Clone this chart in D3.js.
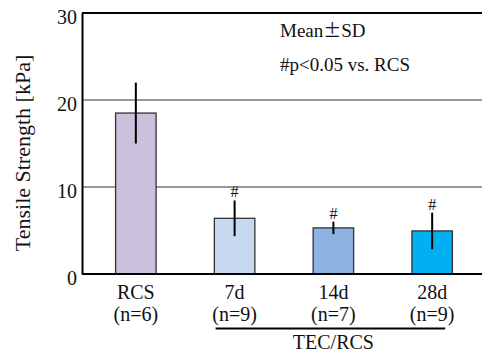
<!DOCTYPE html>
<html>
<head>
<meta charset="utf-8">
<script src="https://cdn.jsdelivr.net/npm/d3@7"></script>
<style>
  body { margin: 0; background: #fff; }
</style>
</head>
<body>
<svg id="chart" width="482" height="352"></svg>
<script>
// data
const groups = ["RCS", "7d", "14d", "28d"];
const counts = ["(n=6)", "(n=9)", "(n=7)", "(n=9)"];
const means = [18.5, 6.4, 5.3, 4.95];
const sds = [3.5, 2.05, 0.72, 2.1];
const marks = ["", "#", "#", "#"];
const colors = ["#cbc1dc", "#c6d9f0", "#8db3e2", "#00b0f0"];
const yTicks = [0, 10, 20, 30];

const FONT = "Liberation Serif";
const width = 482, height = 352;
const margin = {top: 13, right: 0, bottom: 78, left: 82};
const innerW = width - margin.left - margin.right;
const innerH = height - margin.top - margin.bottom;

const svg = d3.select("#chart");

const g = svg.append("g")
  .attr("transform", "translate(" + margin.left + "," + margin.top + ")");

// bar centres ~ 133, 234, 335, 436
const x = d3.scaleBand()
  .domain(groups)
  .range([0, 404])
  .paddingInner(0.59)
  .paddingOuter(0.34);

const y = d3.scaleLinear()
  .domain([0, 30])
  .range([innerH, 0]);

function label(sel, size) {
  return sel.attr("font-family", FONT).attr("font-size", size).attr("fill", "#111");
}

// grid lines at 10 and 20
g.selectAll(".grid")
  .data(yTicks.filter(d => d > 0 && d < 30))
  .enter()
  .append("line")
  .attr("x1", 0).attr("x2", innerW)
  .attr("y1", d => y(d)).attr("y2", d => y(d))
  .attr("stroke", "#333").attr("stroke-width", 1);

// top border
g.append("line")
  .attr("x1", 0).attr("x2", innerW)
  .attr("y1", y(30)).attr("y2", y(30))
  .attr("stroke", "#000").attr("stroke-width", 2);

// y axis
const yAxis = g.append("g")
  .call(d3.axisLeft(y).tickValues(yTicks).tickSize(0).tickPadding(5));
yAxis.select(".domain").attr("stroke", "#000").attr("stroke-width", 2);
label(yAxis.selectAll("text"), 20).attr("dy", "0.5em");

// bars
g.selectAll(".bar")
  .data(groups)
  .enter()
  .append("rect")
  .attr("x", d => x(d))
  .attr("y", (d, i) => y(means[i]))
  .attr("width", x.bandwidth())
  .attr("height", (d, i) => innerH - y(means[i]))
  .attr("fill", (d, i) => colors[i])
  .attr("stroke", "#333")
  .attr("stroke-width", 1.3);

// error bars
g.selectAll(".err")
  .data(groups)
  .enter()
  .append("line")
  .attr("x1", d => x(d) + x.bandwidth() / 2)
  .attr("x2", d => x(d) + x.bandwidth() / 2)
  .attr("y1", (d, i) => y(means[i] + sds[i]))
  .attr("y2", (d, i) => y(means[i] - sds[i]))
  .attr("stroke", "#000")
  .attr("stroke-width", 2);

// significance marks
label(g.selectAll(".mark")
  .data(groups)
  .enter()
  .append("text")
  .attr("x", d => x(d) + x.bandwidth() / 2)
  .attr("y", (d, i) => y(means[i] + sds[i]) - 3)
  .attr("text-anchor", "middle"), 16)
  .text((d, i) => marks[i]);

// x axis line
g.append("line")
  .attr("x1", 0).attr("x2", innerW)
  .attr("y1", innerH).attr("y2", innerH)
  .attr("stroke", "#000").attr("stroke-width", 2);

// category labels
label(g.selectAll(".cat")
  .data(groups)
  .enter()
  .append("text")
  .attr("x", d => x(d) + x.bandwidth() / 2)
  .attr("y", innerH + 25)
  .attr("text-anchor", "middle"), 20)
  .text(d => d);

label(g.selectAll(".cnt")
  .data(groups)
  .enter()
  .append("text")
  .attr("x", d => x(d) + x.bandwidth() / 2)
  .attr("y", innerH + 47)
  .attr("text-anchor", "middle"), 20)
  .text((d, i) => counts[i]);

// TEC/RCS bracket under the three TEC groups
const x0 = x("7d") + x.bandwidth() / 2 - 19;
const x1 = x("28d") + x.bandwidth() / 2 + 13;
g.append("line")
  .attr("x1", x0).attr("x2", x1)
  .attr("y1", innerH + 54.5).attr("y2", innerH + 54.5)
  .attr("stroke", "#000").attr("stroke-width", 2);
label(g.append("text")
  .attr("x", x("14d") + x.bandwidth() / 2)
  .attr("y", innerH + 75)
  .attr("text-anchor", "middle"), 20)
  .text("TEC/RCS");

// notes (the ± in the original is a full-width glyph)
const note1 = label(g.append("text")
  .attr("x", 280 - margin.left)
  .attr("y", 37 - margin.top), 19);
note1.append("tspan").text("Mean");
note1.append("tspan").attr("font-family", "Noto Sans CJK JP").attr("font-size", 18).text("\u00b1");
note1.append("tspan").text("SD");
label(g.append("text")
  .attr("x", 280 - margin.left)
  .attr("y", 71 - margin.top), 19)
  .text("#p<0.05 vs. RCS");

// y label
label(svg.append("text")
  .attr("transform", "translate(30,153) rotate(-90)")
  .attr("text-anchor", "middle"), 22)
  .text("Tensile Strength [kPa]");
</script>
</body>
</html>
